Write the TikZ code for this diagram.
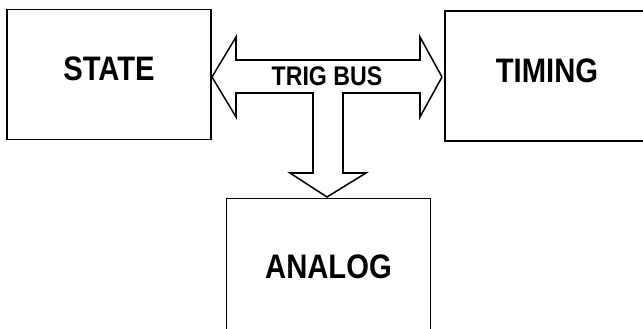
\documentclass[tikz,border=0pt]{standalone}
\usepackage{fontspec}
\setmainfont{Liberation Sans}[FakeStretch=0.86]
\usetikzlibrary{positioning}

\begin{document}
\begin{tikzpicture}[x=0.03cm,y=0.03cm,line width=1.3pt,
  unit/.style={draw,minimum width=6.12cm,minimum height=3.9cm,inner sep=0pt,font=\bfseries\fontsize{29}{32}\selectfont},
  raised/.style={text height=20pt,text depth=9pt},
  bus/.style={draw,line join=miter}]
\clip (0,0) rectangle (643,328);
\node[unit,raised] (state) at (109,253.5) {STATE};
\node[unit,raised] (timing) at (547,252) {TIMING};
\node[unit,minimum height=4.1cm] (analog) at (328.5,61) {ANALOG};
% trig bus as one block arrow
\draw[bus] (212,251) -- (236,291) -- (236,268) -- (420,268) -- (420,291) -- (442,251)
  -- (420,211) -- (420,235) -- (343,235) -- (343,155) -- (366,155) -- (327,131)
  -- (290,155) -- (313,155) -- (313,235) -- (236,235) -- (236,211) -- cycle;
\node[font=\bfseries\fontsize{23}{26}\selectfont] (trig) at (327,252) {TRIG BUS};
\end{tikzpicture}
\end{document}
